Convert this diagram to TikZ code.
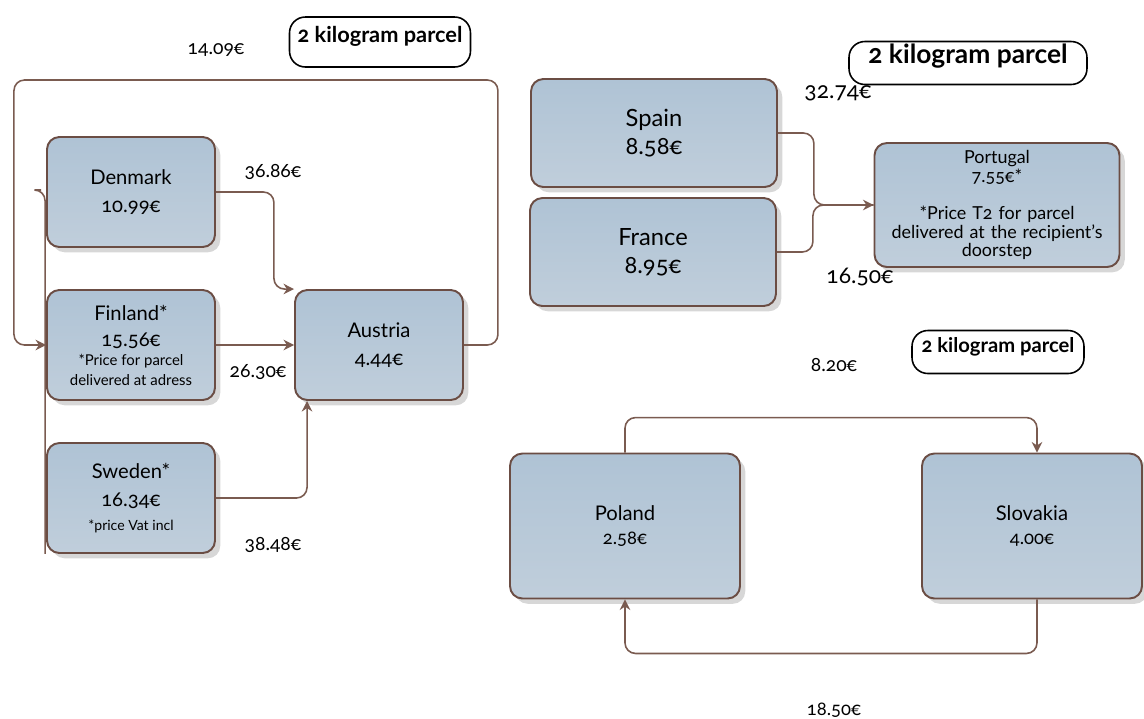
\documentclass[tikz,border=0pt]{standalone}
\usepackage{fontspec}
\setmainfont{Lato}[Numbers=OldStyle]
\usetikzlibrary{calc,arrows.meta,shadows}

\definecolor{boxtop}{HTML}{AFC3D5}
\definecolor{boxbot}{HTML}{C0CEDB}
\definecolor{boxedge}{HTML}{6B4D44}
\definecolor{linkbrown}{HTML}{7A5B50}

\tikzset{
  country/.style={draw=boxedge, line width=1.1pt, rounded corners=7pt,
    top color=boxtop, bottom color=boxbot, align=center, inner sep=2pt,
    drop shadow={shadow xshift=3pt, shadow yshift=-3pt, fill=black!35, opacity=.45}},
  smallbox/.style={country, minimum width=3.36cm, minimum height=2.2cm,
    font=\fontsize{11.5}{16}\selectfont},
  widebox/.style={country, minimum width=4.92cm, minimum height=2.16cm,
    font=\fontsize{13.5}{16}\selectfont},
  bigbox/.style={country, minimum width=4.6cm, minimum height=2.9cm,
    font=\fontsize{11.5}{14}\selectfont},
  link/.style={draw=linkbrown, line width=0.9pt, rounded corners=6pt},
  arr/.style={link, -{Stealth[length=6pt,width=6pt]}},
  tag/.style={draw, line width=0.9pt, rounded corners=9pt, inner sep=0pt,
    text height=8pt, text depth=8pt},
  price/.style={inner sep=1pt}
}

\begin{document}
\begin{tikzpicture}[x=0.02cm,y=-0.02cm]
  \useasboundingbox (0,0) rectangle (1144,718);

  % Nordic countries to Austria
  \node[smallbox] (den) at (131,192) {Denmark\\10.99€};
  \node[smallbox] (fin) at (131,345) {Finland*\\[-1pt]15.56€\\[-5pt]
    {\fontsize{8.5}{10}\selectfont *Price for parcel}\\[-5pt]
    {\fontsize{8.5}{10}\selectfont delivered at adress}};
  \node[smallbox] (swe) at (131,498) {Sweden*\\16.34€\\[-2pt]
    {\fontsize{8}{10}\selectfont *price Vat incl}};
  \node[smallbox] (aut) at (379,345) {Austria\\4.44€};

  \node[tag, minimum width=3.62cm, minimum height=1cm, font=\fontsize{12.4}{14}\bfseries\selectfont]
    (tagA) at (380,42) {2 kilogram parcel};
  \node[price, font=\fontsize{11}{13}\selectfont] (pA) at (216,50) {14.09€};
  \node[price, font=\fontsize{11}{13}\selectfont] (pB) at (273,172) {36.86€};
  \node[price, font=\fontsize{11}{13}\selectfont] (pC) at (258,372) {26.30€};
  \node[price, font=\fontsize{11}{13}\selectfont] (pD) at (273,545) {38.48€};

  \draw[link] ($(den.west)+(-5,-2)$) -- ($(den.west)+(-1,-2)$) -- ($(swe.south west)+(-1,0)$);
  \draw[arr] (den.east) -- ++(58,0) |- (aut.north west);
  \draw[arr] (fin.east) -- (aut.west);
  \draw[arr] (swe.east) -| ($(aut.south west)+(13,0)$);
  \draw[arr] (aut.east) -- ++(34,0) -- ++(0,-265) -- ++(-484,0) |- (fin.west);

  % Spain and France to Portugal
  \node[widebox] (spa) at (654,133) {Spain\\8.58€};
  \node[widebox] (fra) at (653,252) {France\\8.95€};
  \node[country, minimum width=4.9cm, minimum height=2.48cm, text width=4.7cm,
    font=\fontsize{10.2}{10.6}\selectfont] (por) at (997,205)
    {Portugal\\7.55€*\\[10.6pt]*Price T2 for parcel\\delivered at the recipient’s\\doorstep};

  \node[tag, minimum width=4.76cm, minimum height=0.86cm, font=\fontsize{15}{18}\bfseries\selectfont]
    (tagB) at (968,63) {2 kilogram parcel};
  \node[price, font=\fontsize{13}{15}\selectfont] (pE) at (838,93) {32.74€};
  \node[price, font=\fontsize{13}{15}\selectfont] (pF) at (860,277) {16.50€};

  \draw[link] (spa.east) -- ++(36,0) |- (por.west);
  \draw[arr] (fra.east) -- ++(36,0) |- (por.west);

  % Poland and Slovakia
  \node[bigbox] (pol) at (625,526) {Poland\\{\fontsize{10.5}{13}\selectfont 2.58€}};
  \node[bigbox, minimum width=4.4cm] (slo) at (1032,526) {Slovakia\\{\fontsize{10.5}{13}\selectfont 4.00€}};

  \node[tag, minimum width=3.44cm, minimum height=0.86cm, font=\fontsize{11.5}{14}\bfseries\selectfont]
    (tagC) at (998,352) {2 kilogram parcel};
  \node[price, font=\fontsize{11}{13}\selectfont] (pG) at (834,365) {8.20€};
  \node[price, font=\fontsize{10.5}{13}\selectfont] (pH) at (834,710) {18.50€};

  \draw[arr] (pol.north) -- ++(0,-35) -| ($(slo.north)+(5,0)$);
  \draw[arr] ($(slo.south)+(5,0)$) -- ++(0,54) -| (pol.south);
\end{tikzpicture}
\end{document}
